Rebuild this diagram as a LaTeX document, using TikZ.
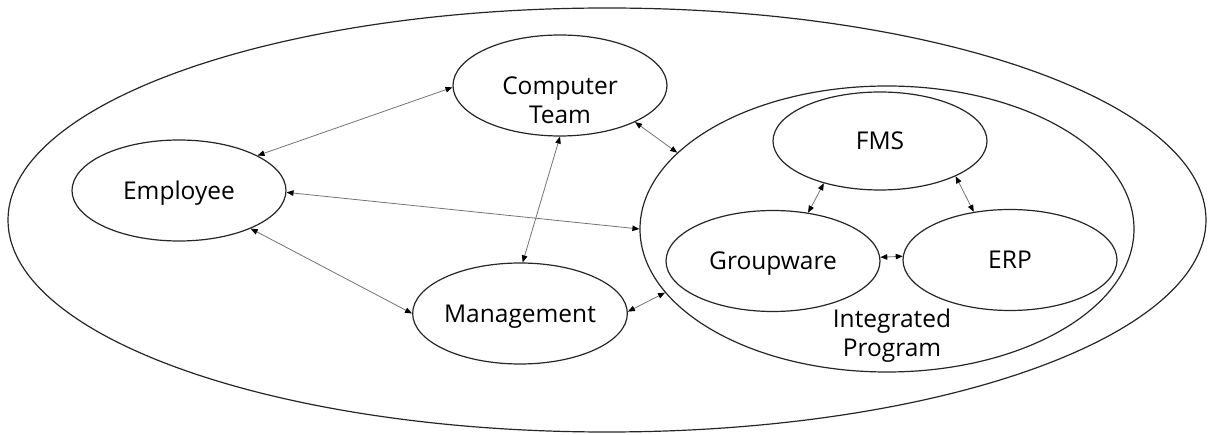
\documentclass[tikz,border=0pt]{standalone}
\usepackage{fontspec}
\setmainfont{Open Sans}
\usetikzlibrary{shapes.geometric,arrows.meta}
\begin{document}
\begin{tikzpicture}[x=1pt,y=-1pt,
  el/.style={ellipse,draw=black!85,line width=1.2pt,inner sep=0pt,minimum width=214pt,minimum height=101pt},
  lbl/.style={font=\fontsize{24.5}{29}\selectfont,text height=17.5pt,text depth=0pt,align=center,inner sep=0pt},
  lbltwo/.style={lbl,text height=46.5pt,text depth=0pt},
  link/.style={draw=black!55,line width=0.8pt,{Triangle[length=7pt,width=5.5pt,color=black]}-{Triangle[length=7pt,width=5.5pt,color=black]}},
]
\useasboundingbox (0,0) rectangle (1208,435);
% outer ellipse
\node[ellipse,draw=black!85,line width=1.2pt,inner sep=0pt,minimum width=1198pt,minimum height=424pt] (outer) at (607,220) {};
% integrated program ellipse
\node[ellipse,draw=black!85,line width=1.2pt,inner sep=0pt,minimum width=494pt,minimum height=286pt] (ip) at (887,229) {};
\node[lbltwo] (iptext) at (892,333.5) {Integrated\\Program};
% small ellipses
\node[el] (ct) at (560,85.5) {};
\node[lbltwo] (cttext) at (560,100) {Computer\\Team};
\node[el,lbl] (emp) at (179,190.5) {Employee};
\node[el,lbl] (mg) at (520,313.5) {Management};
\node[el,lbl,minimum height=98pt] (fms) at (880,141) {FMS};
\node[el,lbl] (gw) at (773,261) {Groupware};
\node[el,lbl] (erp) at (1010,260) {ERP};
% connectors
\draw[link] (ct.181) -- (emp.24);
\draw[link] (emp.359) -- (ip.180);
\draw[link] (emp.332) -- (mg.180);
\draw[link] (ct.270) -- (mg.87);
\draw[link] (ct.334) -- (ip.160);
\draw[link] (mg.1) -- (ip.196);
\draw[link] (fms.217) -- (gw.54);
\draw[link] (fms.335) -- (erp.127);
\draw[link] (gw.2) -- (erp.178);
\end{tikzpicture}
\end{document}
